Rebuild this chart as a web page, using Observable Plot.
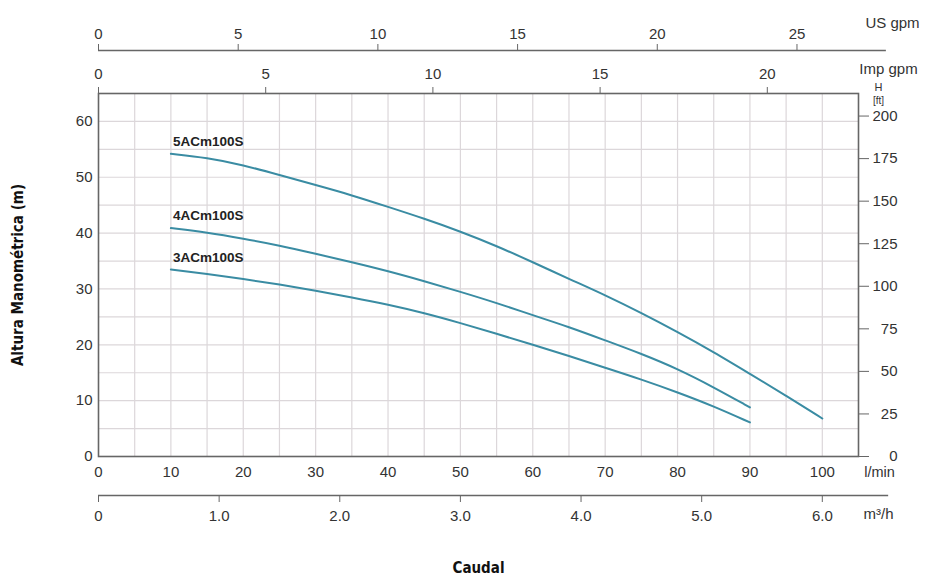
<!DOCTYPE html>
<html><head><meta charset="utf-8">
<script src="https://cdn.jsdelivr.net/npm/d3@7"></script>
<script src="https://cdn.jsdelivr.net/npm/@observablehq/plot@0.6"></script>
<style>body{margin:0;background:#fff}</style>
</head><body><div id="chart"></div>
<script>
// ---- data ----
const seriesNames = ["5ACm100S", "4ACm100S", "3ACm100S"];
const flow5 = [10,15,20,25,30,35,40,45,50,55,60,65,70,75,80,85,90,95,100];
const head5 = [54.2,53.5,52.2,50.4,48.6,46.8,44.7,42.6,40.3,37.7,34.8,31.8,28.9,25.7,22.3,18.7,14.8,10.9,6.8];
const flow4 = [10,15,20,25,30,35,40,45,50,55,60,65,70,75,80,85,90];
const head4 = [40.9,40.1,39.0,37.8,36.3,34.8,33.2,31.4,29.5,27.5,25.3,23.2,20.8,18.4,15.7,12.4,8.8];
const flow3 = [10,15,20,25,30,35,40,45,50,55,60,65,70,75,80,85,90];
const head3 = [33.5,32.7,31.8,30.8,29.7,28.5,27.2,25.7,23.9,22.0,20.0,18.0,15.9,13.8,11.5,9.0,6.1];

// tick labels
const lminTicks = [0,10,20,30,40,50,60,70,80,90,100];
const mTicks = [0,10,20,30,40,50,60];
const ftTicks = [0,25,50,75,100,125,150,175,200];
const usGpmTicks = [0,5,10,15,20,25];
const impGpmTicks = [0,5,10,15,20];
const m3hTicks = [0,1,2,3,4,5,6];
const m3hLabels = ["0","1.0","2.0","3.0","4.0","5.0","6.0"];

// unit conversions (as drawn in the reference)
const L_PER_USGPM = 3.86, L_PER_IMPGPM = 4.62, L_PER_M3H = 1000/60, M_PER_FT = 0.3048;
const usAxisEnd = 28.2;   // US gpm
const m3hAxisEnd = 6.55;  // m3/h

const rows = [];
[[flow5, head5], [flow4, head4], [flow3, head3]].forEach(([f, h], s) => {
  f.forEach((q, i) => rows.push({series: seriesNames[s], q, h: h[i]}));
});
const firsts = seriesNames.map(n => rows.find(r => r.series === n));

const tickFill = "#333", lineCol = "#666", curveCol = "#3a8ca3", gridCol = "#dcd7da";
const font = "'Liberation Sans', Arial, Helvetica, sans-serif";
const narrow = "'Liberation Sans Narrow', 'DejaVu Sans Condensed', 'Liberation Sans', Arial, sans-serif";

const chart = Plot.plot({
  width: 925, height: 586,
  marginLeft: 98, marginRight: 67, marginTop: 93, marginBottom: 130,
  x: {domain: [0, 105], axis: null},
  y: {domain: [0, 65], axis: null},
  style: {fontFamily: font, fontSize: "15px", background: "#fff", overflow: "visible"},
  marks: [
    Plot.gridX({ticks: d3.range(5, 105, 5), stroke: gridCol, strokeOpacity: 1, strokeWidth: 1.2}),
    Plot.gridY({ticks: d3.range(5, 65, 5), stroke: gridCol, strokeOpacity: 1, strokeWidth: 1.2}),
    Plot.frame({stroke: lineCol, strokeWidth: 1.6}),
    // left axis (m)
    Plot.axisY({anchor: "left", ticks: mTicks, tickSize: 0, tickPadding: 6, fill: tickFill, label: null, fontSize: 15}),
    // right axis (ft)
    Plot.axisY({anchor: "right", ticks: ftTicks.map(f => f * M_PER_FT), tickFormat: d => String(Math.round(d / M_PER_FT)),
      tickSize: 10, tickPadding: 29, textAnchor: "end", stroke: lineCol, fill: tickFill, label: null, fontSize: 15}),
    // bottom l/min axis
    Plot.axisX({anchor: "bottom", ticks: lminTicks, tickSize: 0, tickPadding: 10, fill: tickFill, label: null, fontSize: 15}),
    // bottom m3/h axis
    Plot.ruleY([0], {x1: 0, x2: m3hAxisEnd * L_PER_M3H, dy: 39, stroke: lineCol, strokeWidth: 1.4}),
    Plot.axisX({anchor: "bottom", ticks: m3hTicks.map(v => v * L_PER_M3H),
      tickFormat: d => m3hLabels[Math.round(d / L_PER_M3H)], tickSize: 7, tickPadding: 8, dy: 39,
      stroke: lineCol, fill: tickFill, label: null, fontSize: 15}),
    // top Imp gpm axis (frame top)
    Plot.axisX({anchor: "top", ticks: impGpmTicks.map(v => v * L_PER_IMPGPM), tickFormat: d => String(Math.round(d / L_PER_IMPGPM)),
      tickSize: 7, tickPadding: 8, stroke: lineCol, fill: tickFill, label: null, fontSize: 15}),
    // top US gpm axis
    Plot.ruleY([65], {x1: 0, x2: usAxisEnd * L_PER_USGPM, dy: -43, stroke: lineCol, strokeWidth: 1.4}),
    Plot.axisX({anchor: "top", ticks: usGpmTicks.map(v => v * L_PER_USGPM), tickFormat: d => String(Math.round(d / L_PER_USGPM)),
      tickSize: 7, tickPadding: 5, dy: -43, stroke: lineCol, fill: tickFill, label: null, fontSize: 15}),
    // unit labels
    Plot.text(["US gpm"], {frameAnchor: "top-right", textAnchor: "middle", dx: 34, dy: -76, fill: tickFill, fontSize: 15}),
    Plot.text(["Imp gpm"], {frameAnchor: "top-right", textAnchor: "middle", dx: 30, dy: -30, fill: tickFill, fontSize: 15}),
    Plot.text(["H"], {frameAnchor: "top-right", textAnchor: "middle", dx: 20, dy: -10, fill: tickFill, fontSize: 11}),
    Plot.text(["[ft]"], {frameAnchor: "top-right", textAnchor: "middle", dx: 20, dy: 3, fill: tickFill, fontSize: 10}),
    Plot.text(["l/min"], {frameAnchor: "bottom-right", textAnchor: "middle", dx: 21, dy: 20, fill: tickFill, fontSize: 14.5}),
    Plot.text(["m³/h"], {frameAnchor: "bottom-right", textAnchor: "middle", dx: 20, dy: 62, fill: tickFill, fontSize: 15}),
    // titles
    Plot.text(["Altura Manométrica (m)"], {frameAnchor: "left", textAnchor: "middle", dx: -80, rotate: -90, fontWeight: "bold",
      fontFamily: narrow, fontSize: 15, fill: "#111"}),
    Plot.text(["Caudal"], {frameAnchor: "bottom", textAnchor: "middle", dy: 116, fontWeight: "bold", fontFamily: narrow, fontSize: 15, fill: "#111"}),
    // curves
    Plot.line(rows, {x: "q", y: "h", z: "series", curve: "basis", stroke: curveCol, strokeWidth: 2}),
    Plot.text(firsts, {x: "q", y: "h", text: "series", textAnchor: "start", dx: 2, dy: -12,
      fontWeight: "bold", fontSize: 13.5, fill: "#222"})
  ]
});
document.getElementById("chart").appendChild(chart);
</script>
</body></html>
